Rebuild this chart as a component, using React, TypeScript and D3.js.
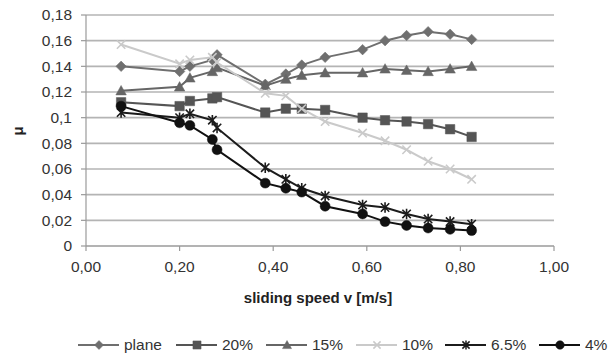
import React from "react";
import * as d3 from "d3";

const speeds = [0.075, 0.2, 0.222, 0.27, 0.28, 0.383, 0.427, 0.461, 0.511, 0.591, 0.639, 0.685, 0.731, 0.778, 0.824];
const seriesNames = ["plane", "20%", "15%", "10%", "6.5%", "4%"];
const plane = [0.14, 0.136, 0.14, 0.145, 0.149, 0.126, 0.134, 0.141, 0.147, 0.153, 0.16, 0.164, 0.167, 0.165, 0.161];
const p20 = [0.112, 0.109, 0.113, 0.115, 0.116, 0.104, 0.107, 0.107, 0.106, 0.1, 0.098, 0.097, 0.095, 0.091, 0.085];
const p15 = [0.121, 0.124, 0.131, 0.136, 0.139, 0.125, 0.13, 0.133, 0.135, 0.135, 0.138, 0.137, 0.136, 0.138, 0.14];
const p10 = [0.157, 0.142, 0.145, 0.147, 0.143, 0.119, 0.117, 0.107, 0.097, 0.088, 0.082, 0.075, 0.066, 0.06, 0.052];
const p65 = [0.104, 0.1, 0.103, 0.098, 0.092, 0.061, 0.052, 0.045, 0.039, 0.032, 0.03, 0.025, 0.021, 0.019, 0.017];
const p4 = [0.109, 0.096, 0.094, 0.083, 0.075, 0.049, 0.045, 0.042, 0.031, 0.025, 0.019, 0.016, 0.014, 0.013, 0.012];
const xTicks = [0, 0.2, 0.4, 0.6, 0.8, 1.0];
const yTicks = [0, 0.02, 0.04, 0.06, 0.08, 0.1, 0.12, 0.14, 0.16, 0.18];

const allSeries = [plane, p20, p15, p10, p65, p4];
const colors = ["#6f6f6f", "#555555", "#666666", "#cacaca", "#1c1c1c", "#111111"];
const shapes = ["diamond", "square", "triangle", "x", "star", "circle"];

function markerPath(shape: string, s: number): string {
  const p = d3.path();
  const r = s / 2;
  if (shape === "diamond") {
    p.moveTo(0, -r); p.lineTo(r, 0); p.lineTo(0, r); p.lineTo(-r, 0); p.closePath();
  } else if (shape === "square") {
    p.rect(-r * 0.9, -r * 0.9, r * 1.8, r * 1.8);
  } else if (shape === "triangle") {
    p.moveTo(0, -r); p.lineTo(r, r * 0.8); p.lineTo(-r, r * 0.8); p.closePath();
  } else if (shape === "circle") {
    p.arc(0, 0, r * 0.95, 0, Math.PI * 2);
  } else if (shape === "x") {
    const a = r * 0.8;
    p.moveTo(-a, -a); p.lineTo(a, a); p.moveTo(a, -a); p.lineTo(-a, a);
  } else if (shape === "star") {
    const a = r * 0.8;
    p.moveTo(-a, -a); p.lineTo(a, a); p.moveTo(a, -a); p.lineTo(-a, a);
    p.moveTo(0, -r); p.lineTo(0, r);
  }
  return p.toString();
}

const filled = (shape: string) => shape !== "x" && shape !== "star";

export default function App() {
  const W = 615, H = 356;
  const x = d3.scaleLinear().domain([0, 1]).range([86, 554]);
  const y = d3.scaleLinear().domain([0, 0.18]).range([246, 15]);
  const line = d3.line<number>().x((_, i) => x(speeds[i])).y((d) => y(d));
  const font = "'Liberation Sans', Arial, sans-serif";
  const legendX = [78, 176, 266, 356, 445, 539];
  const fs = 15.5;

  return (
    <svg width={W} height={H} style={{ position: "absolute", left: 0, top: 0, background: "#fff" }} fontFamily={font}>
      {yTicks.map((t) => (
        <g key={"y" + t}>
          {t > 0 && <line x1={86} x2={554} y1={y(t)} y2={y(t)} stroke="#b4b4b4" strokeWidth={1.6} />}
          <line x1={81} x2={86} y1={y(t)} y2={y(t)} stroke="#9a9a9a" strokeWidth={1.2} />
          <text x={72} y={y(t)} dy="0.35em" textAnchor="end" fontSize={fs} fill="#333">
            {String(t === 0.1 ? "0,1" : d3.format(".2f")(t)).replace(".", ",").replace(/^0,00$/, "0")}
          </text>
        </g>
      ))}
      <line x1={86} x2={86} y1={15} y2={246} stroke="#9a9a9a" strokeWidth={1.2} />
      <line x1={86} x2={554} y1={246} y2={246} stroke="#9a9a9a" strokeWidth={1.4} />
      {xTicks.map((t) => (
        <g key={"x" + t}>
          <line x1={x(t)} x2={x(t)} y1={246} y2={251} stroke="#9a9a9a" strokeWidth={1.2} />
          <text x={x(t)} y={267} dy="0.35em" textAnchor="middle" fontSize={fs} fill="#333">
            {d3.format(".2f")(t).replace(".", ",")}
          </text>
        </g>
      ))}
      <text x={318} y={298} dy="0.35em" textAnchor="middle" fontSize={15} fontWeight="bold" fill="#222">
        sliding speed v [m/s]
      </text>
      <text transform="translate(18,131) rotate(-90)" textAnchor="middle" dy="0.35em" fontSize={15} fontWeight="bold" fill="#222">
        μ
      </text>
      {allSeries.map((vals, si) => (
        <g key={"s" + si}>
          <path d={line(vals) || ""} fill="none" stroke={colors[si]} strokeWidth={2} />
          {vals.map((v, i) => (
            <path
              key={i}
              d={markerPath(shapes[si], 10.5)}
              transform={`translate(${x(speeds[i])},${y(v)})`}
              fill={filled(shapes[si]) ? colors[si] : "none"}
              stroke={colors[si]}
              strokeWidth={filled(shapes[si]) ? 0.5 : 1.6}
            />
          ))}
        </g>
      ))}
      {seriesNames.map((name, si) => (
        <g key={"l" + si} transform={`translate(${legendX[si]},345)`}>
          <line x1={0} x2={41} y1={0} y2={0} stroke={colors[si]} strokeWidth={2} />
          <path d={markerPath(shapes[si], 9)} transform="translate(21,0)" fill={filled(shapes[si]) ? colors[si] : "none"} stroke={colors[si]} strokeWidth={filled(shapes[si]) ? 0.5 : 1.5} />
          <text x={46} y={0} dy="0.35em" fontSize={fs} fill="#333">{name}</text>
        </g>
      ))}
    </svg>
  );
}
